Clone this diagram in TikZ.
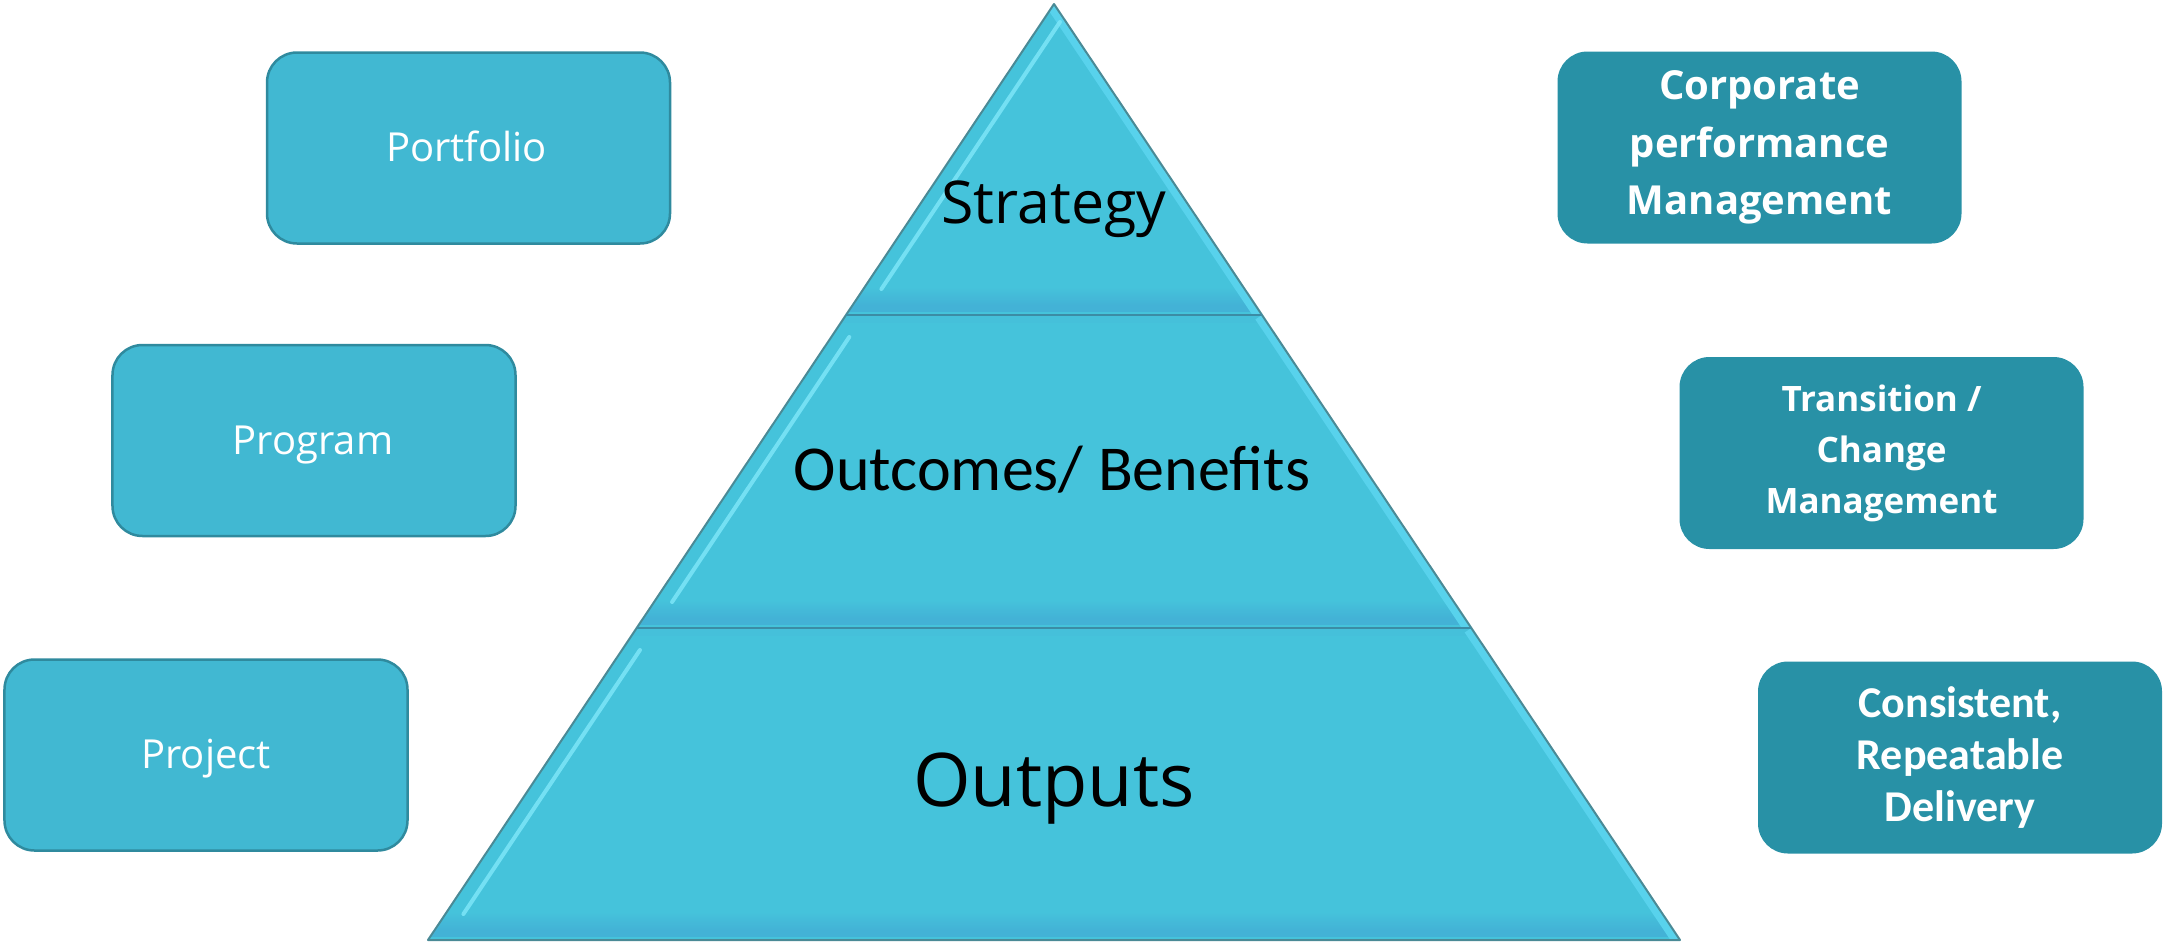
\documentclass[tikz,border=0pt]{standalone}
\usepackage{fontspec}
\setmainfont{Open Sans}
\newfontfamily\calib{Carlito}
\definecolor{pyrfill}{RGB}{69,195,219}
\definecolor{pyrhl}{RGB}{125,230,248}
\definecolor{pyrrs}{RGB}{88,210,236}
\definecolor{pyrbot}{RGB}{66,172,212}
\definecolor{pyrline}{RGB}{74,138,150}
\definecolor{pyrdiv}{RGB}{60,140,165}
\definecolor{lfill}{RGB}{65,184,210}
\definecolor{lborder}{RGB}{47,138,158}
\definecolor{rfill}{RGB}{40,145,166}
\tikzset{
  lbox/.style={draw=lborder, line width=2.5bp, fill=lfill, rounded corners=30bp,
    minimum width=403bp, minimum height=191bp, inner sep=0pt, text=white,
    font=\fontsize{40bp}{48bp}\selectfont},
  rbox/.style={fill=rfill, rounded corners=30bp,
    minimum width=404bp, minimum height=192bp, inner sep=0pt, text=white, align=center},
  ptext/.style={text=black, inner sep=0pt, anchor=base}
}
\begin{document}
\begin{tikzpicture}[x=1bp,y=-1bp]
\useasboundingbox (0,0) rectangle (2164,943);
% pyramid bands
\foreach \t/\b/\s in {4/315/18,315/628/22,628/940/22}{
  \begin{scope}
    \clip ({1054-0.6688*(\t-4)},\t) -- ({1054+0.6688*(\t-4)},\t) -- ({1054+0.6688*(\b-4)},\b) -- ({1054-0.6688*(\b-4)},\b) -- cycle;
    \fill[pyrfill] (0,\t) rectangle (2164,\b);
    \shade[top color=pyrfill, bottom color=pyrbot!75!pyrfill] (0,\b-28) rectangle (2164,\b-10);
    \fill[pyrbot!75!pyrfill] (0,\b-10) rectangle (2164,\b-3);
    \fill[pyrfill!85!pyrbot] (0,\t) rectangle (2164,\t+8);
    \draw[pyrrs, line width=16bp] ({1054+0.6688*(\t-4)},\t) -- ({1054+0.6688*(\b-4)},\b);
    \draw[pyrhl, line width=4bp, line cap=round, opacity=0.85] ({1054-0.6688*(\t+\s-4)+18},\t+\s) -- ({1054-0.6688*(\b-26-4)+18},\b-26);
  \end{scope}
}
\coordinate (apex) at (1054,4);
\coordinate (bl) at (428,940);
\coordinate (br) at (1680,940);
\draw[pyrline, line width=2bp, line join=round] (apex) -- (bl) -- (br) -- cycle;
\coordinate (d1l) at (846,315);
\coordinate (d1r) at (1262,315);
\coordinate (d2l) at (637,628);
\coordinate (d2r) at (1471,628);
\draw[pyrdiv, line width=2.5bp] (d1l) -- (d1r);
\draw[pyrdiv, line width=2.5bp] (d2l) -- (d2r);
% pyramid labels
\node[ptext, font=\fontsize{59bp}{70bp}\selectfont] (strategy) at (1054,223) {Strategy};
\node[ptext, font=\calib\fontsize{64bp}{76bp}\selectfont] (outcomes) at (1052,490) {Outcomes/ Benefits};
\node[ptext, font=\fontsize{74bp}{88bp}\selectfont] (outputs) at (1054,806) {Outputs};
% left boxes
\node[lbox] (portfolio) at (468.5,148) {};
\node[lbox] (program) at (314,440.5) {};
\node[lbox] (project) at (206,755) {};
\node[ptext, text=white, font=\fontsize{40bp}{48bp}\selectfont] (portfoliot) at (466.5,161) {Portfolio};
\node[ptext, text=white, font=\fontsize{40bp}{48bp}\selectfont] (programt) at (313,454) {Program};
\node[ptext, text=white, font=\fontsize{40bp}{48bp}\selectfont] (projectt) at (206,768) {Project};
% right boxes
\node[rbox, font=\bfseries\fontsize{40bp}{57.5bp}\selectfont] (corporate) at (1759.5,147.5) {Corporate\\performance\\Management};
\node[rbox, font=\bfseries\fontsize{35bp}{51bp}\selectfont] (transition) at (1881.5,453) {Transition /\\Change\\Management};
\node[rbox, font=\calib\bfseries\fontsize{44bp}{52bp}\selectfont] (consistent) at (1960,757.5) {Consistent,\\Repeatable\\Delivery};
\end{tikzpicture}
\end{document}
